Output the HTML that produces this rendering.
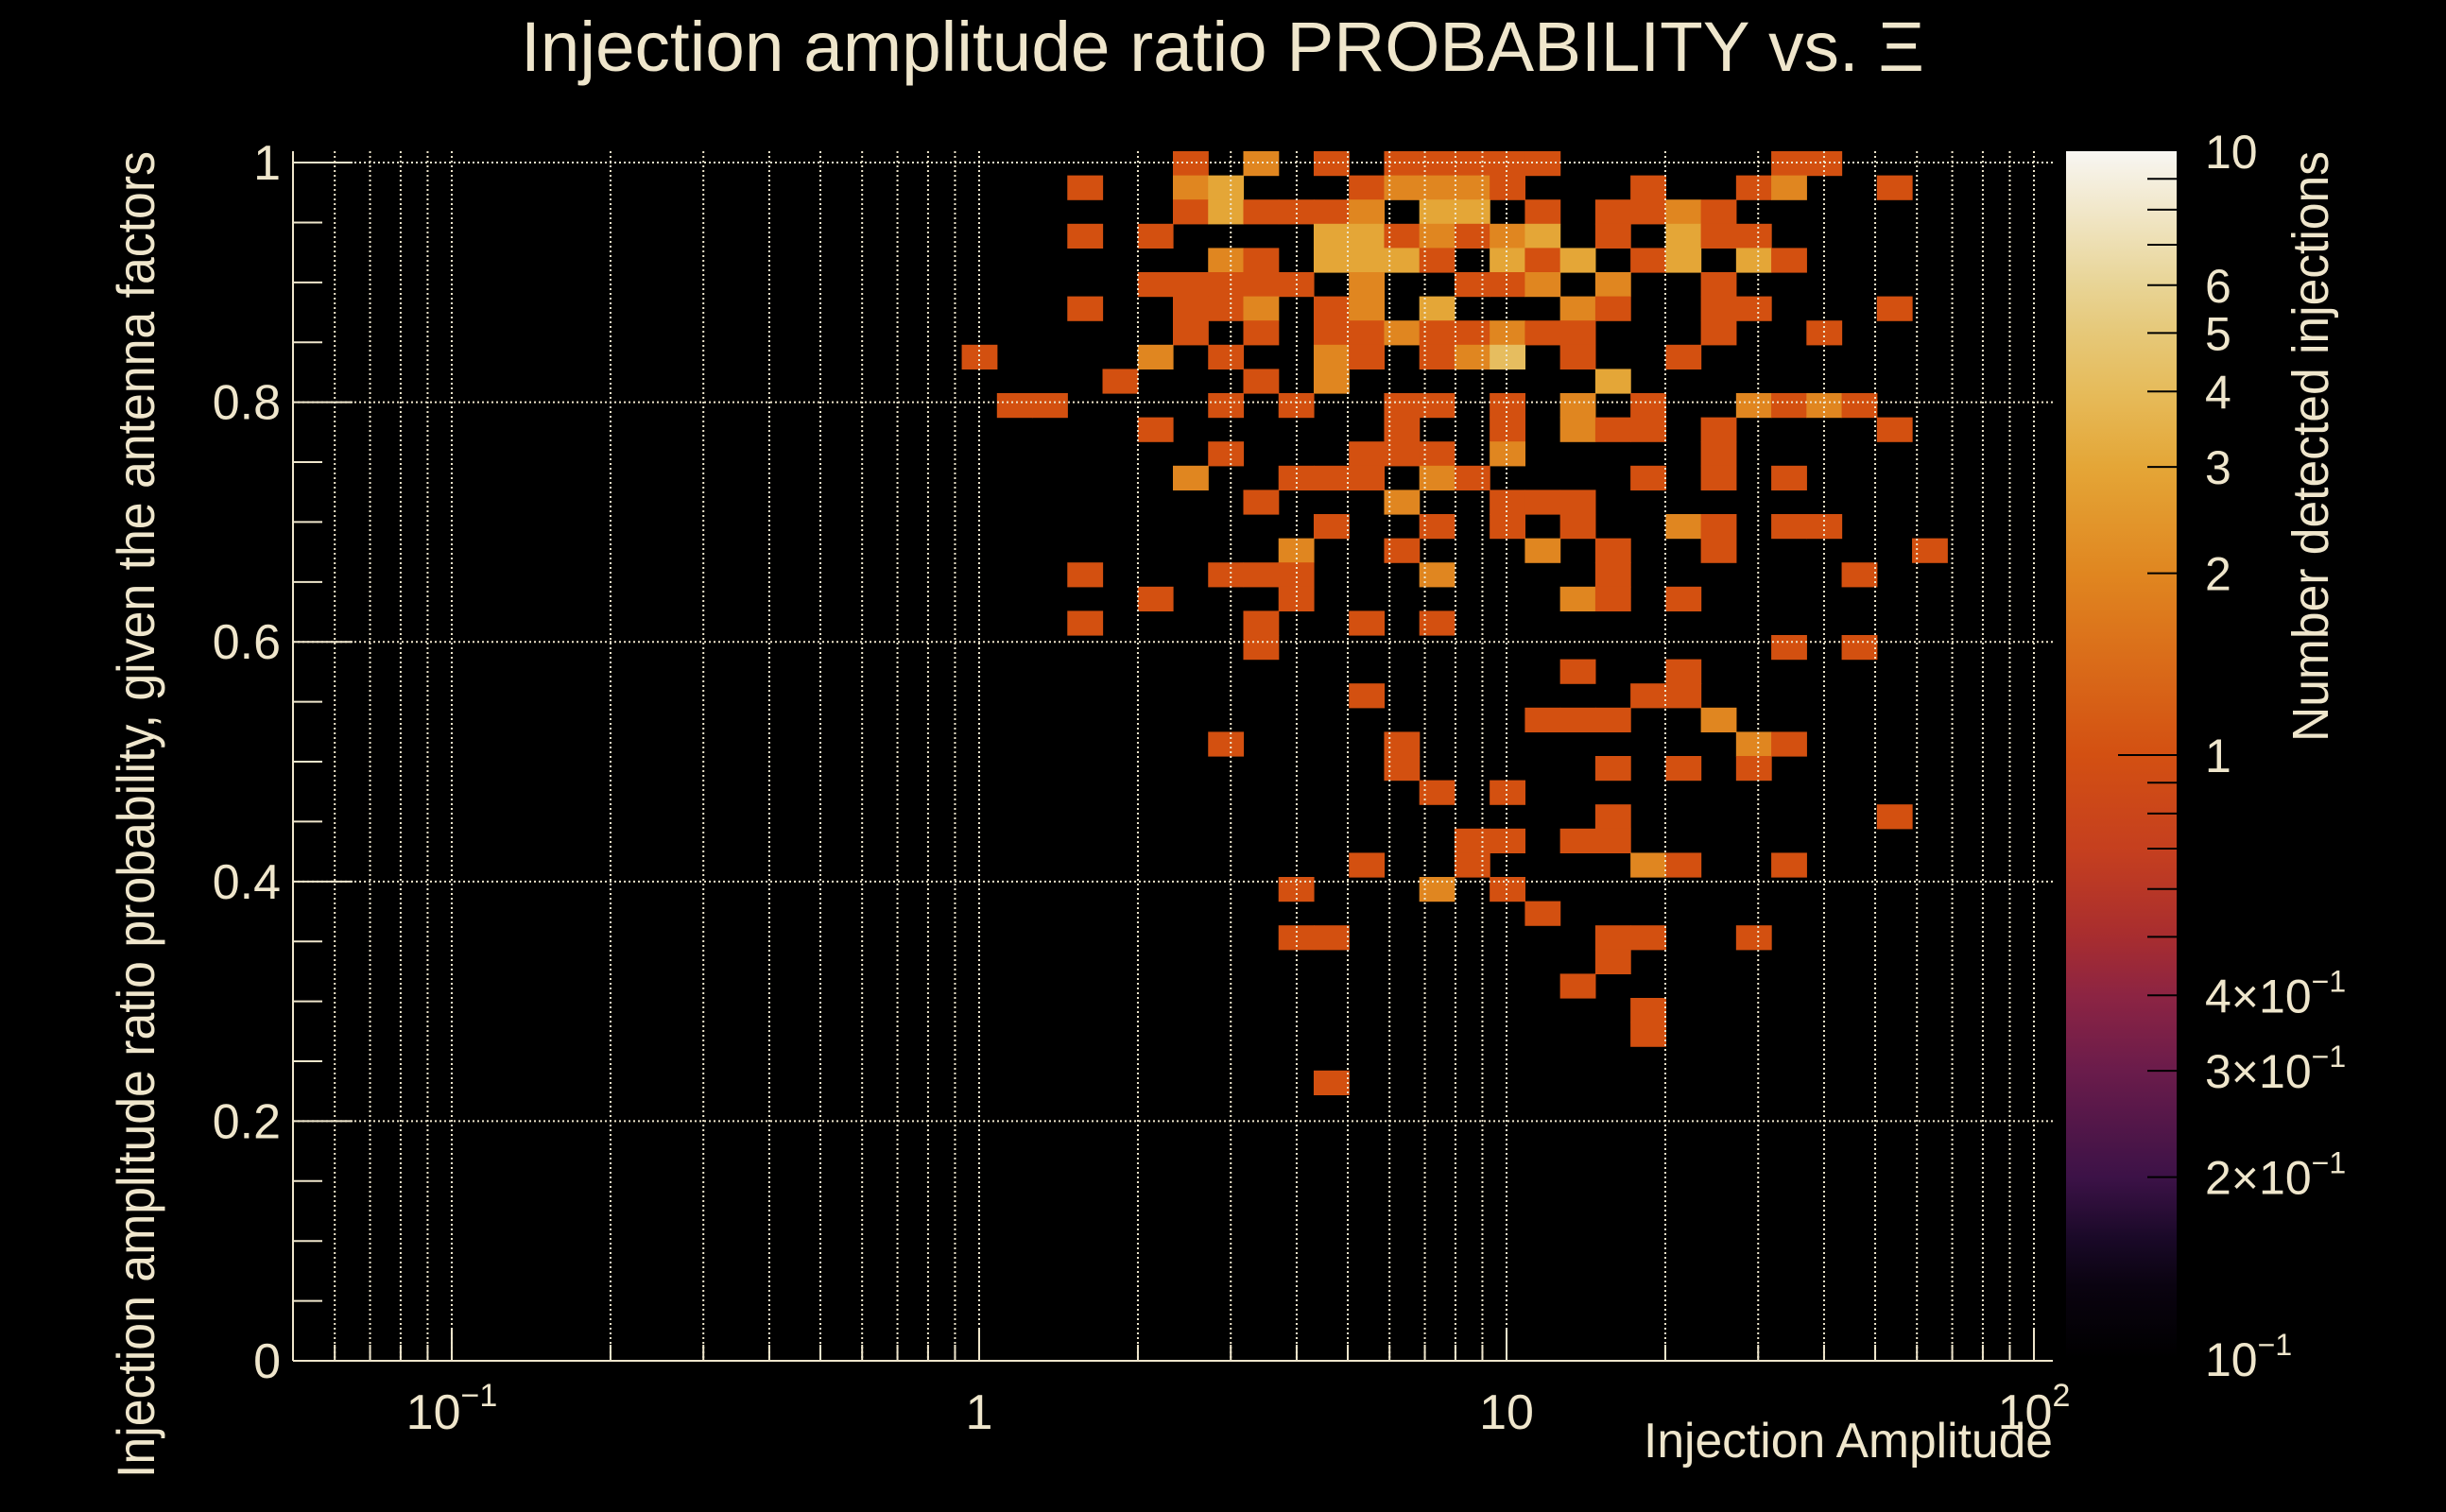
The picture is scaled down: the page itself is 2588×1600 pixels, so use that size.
<!DOCTYPE html>
<html><head><meta charset="utf-8"><title>Injection amplitude ratio probability</title>
<style>html,body{margin:0;padding:0;background:#000;}svg{display:block;}text{font-family:"Liberation Sans",Arial,sans-serif;fill:#efe6cc;}</style>
</head><body>
<svg id="chart" width="2588" height="1600" viewBox="0 0 2588 1600" xmlns="http://www.w3.org/2000/svg">
<rect x="0" y="0" width="2588" height="1600" fill="#000"/>
<defs>
<linearGradient id="cbgrad" x1="0" y1="1" x2="0" y2="0">
<stop offset="0" stop-color="#000000"/><stop offset="0.06" stop-color="#0a0310"/><stop offset="0.1" stop-color="#1a0928"/><stop offset="0.15" stop-color="#3c1247"/><stop offset="0.24" stop-color="#6b1c4b"/><stop offset="0.30" stop-color="#8c2443"/><stop offset="0.35" stop-color="#a82d2f"/><stop offset="0.42" stop-color="#c53f1f"/><stop offset="0.5" stop-color="#d35012"/><stop offset="0.65" stop-color="#e08620"/><stop offset="0.739" stop-color="#e4a637"/><stop offset="0.80" stop-color="#e6bb5a"/><stop offset="0.849" stop-color="#e6c878"/><stop offset="0.889" stop-color="#e8d495"/><stop offset="1" stop-color="#f8f6f2"/>
</linearGradient></defs>
<g id="cells"></g>
<g id="grid"></g>
<g id="axes"></g>
<g id="colorbar"></g>
<text x="551" y="75" font-size="74" textLength="1485" lengthAdjust="spacingAndGlyphs">Injection amplitude ratio PROBABILITY vs.  Ξ</text>
<text x="2172" y="1542" font-size="52" text-anchor="end" textLength="433" lengthAdjust="spacingAndGlyphs">Injection Amplitude</text>
<text transform="translate(163,1564) rotate(-90)" font-size="56" textLength="1404" lengthAdjust="spacingAndGlyphs">Injection amplitude ratio probability, given the antenna factors</text>
<text transform="translate(2463,785) rotate(-90)" font-size="54" textLength="625" lengthAdjust="spacingAndGlyphs">Number detected injections</text>
</svg>
<script>
// ---- data ----
const rowProb = [1.000,0.980,0.960,0.939,0.919,0.899,0.879,0.859,0.838,0.818,0.798,0.778,0.758,0.737,0.717,0.697,0.677,0.657,0.636,0.616,0.596,0.576,0.556,0.535,0.515,0.495,0.475,0.455,0.434,0.414,0.394,0.374,0.354,0.333,0.313,0.293,0.273,0.232];
const rowAmp = [
[2.517,3.422,4.654,6.329,7.379,8.605,10.03,11.70,34.31,40.02],
[1.587,2.517,2.935,5.427,6.329,7.379,8.605,10.03,18.56,29.43,34.31,54.42],
[2.517,2.935,3.422,3.991,4.654,5.427,7.379,8.605,11.70,15.91,18.56,21.64,25.23],
[1.587,2.159,4.654,5.427,6.329,7.379,8.605,10.03,11.70,15.91,21.64,25.23,29.43],
[2.935,3.422,4.654,5.427,6.329,7.379,10.03,11.70,13.65,18.56,21.64,29.43,34.31],
[2.159,2.517,2.935,3.422,3.991,5.427,8.605,10.03,11.70,15.91,25.23],
[1.587,2.517,2.935,3.422,4.654,5.427,7.379,13.65,15.91,25.23,29.43,54.42],
[2.517,3.422,4.654,5.427,6.329,7.379,8.605,10.03,11.70,13.65,25.23,40.02],
[1.00,2.159,2.935,4.654,5.427,7.379,8.605,10.03,13.65,21.64],
[1.851,3.422,4.654,15.91],
[1.167,1.361,2.935,3.991,6.329,7.379,10.03,13.65,18.56,29.43,34.31,40.02,46.67],
[2.159,6.329,10.03,13.65,15.91,18.56,25.23,54.42],
[2.935,5.427,6.329,7.379,10.03,25.23],
[2.517,3.991,4.654,5.427,7.379,8.605,18.56,25.23,34.31],
[3.422,6.329,10.03,11.70,13.65],
[4.654,7.379,10.03,13.65,21.64,25.23,34.31,40.02],
[3.991,6.329,11.70,15.91,25.23,63.46],
[1.587,2.935,3.422,3.991,7.379,15.91,46.67],
[2.159,3.991,13.65,15.91,21.64],
[1.587,3.422,5.427,7.379],
[3.422,34.31,46.67],
[13.65,21.64],
[5.427,18.56,21.64],
[11.70,13.65,15.91,25.23],
[2.935,6.329,29.43,34.31],
[6.329,15.91,21.64,29.43],
[7.379,10.03],
[15.91,54.42],
[8.605,10.03,13.65,15.91],
[5.427,8.605,18.56,21.64,34.31],
[3.991,7.379,10.03],
[11.70],
[3.991,4.654,15.91,18.56,29.43],
[15.91],
[13.65],
[18.56],
[18.56],
[4.654]
];
const rowCount = [
[1,2,1,1,1,1,1,1,1,1],
[1,2,3,1,2,2,2,1,1,1,2,1],
[1,3,1,1,1,2,3,3,1,1,1,2,1],
[1,1,3,3,1,2,1,2,3,1,3,1,1],
[2,1,3,3,3,1,3,1,3,1,3,3,1],
[1,1,1,1,1,2,1,1,2,2,1],
[1,1,1,2,1,2,3,2,1,1,1,1],
[1,1,1,1,2,1,1,2,1,1,1,1],
[1,2,1,2,1,1,2,4,1,1],
[1,1,2,3],
[1,1,1,1,1,1,1,2,1,2,1,2,1],
[1,1,1,2,1,1,1,1],
[1,1,1,1,2,1],
[2,1,1,1,2,1,1,1,1],
[1,2,1,1,1],
[1,1,1,1,2,1,1,1],
[2,1,2,1,1,1],
[1,1,1,1,2,1,1],
[1,1,2,1,1],
[1,1,1,1],
[1,1,1],
[1,1],
[1,1,1],
[1,1,1,2],
[1,1,2,1],
[1,1,1,1],
[1,1],
[1,1],
[1,1,1,1],
[1,1,2,1,1],
[1,2,1],
[1],
[1,1,1,1,1],
[1],
[1],
[1],
[1],
[1]
];
const yTickLabels = ["0","0.2","0.4","0.6","0.8","1"];
const yTickValues = [0,0.2,0.4,0.6,0.8,1];
const xMajorValues = [0.1,1,10,100];
const zTickValues = [10,6,5,4,3,2,1,0.4,0.3,0.2,0.1];

// ---- axes ----
const NS="http://www.w3.org/2000/svg";
const FX0=310,FX1=2172,FY0=1440,FYT=160;
const XMIN=0.05,XMAX=108.6,YMAX=1.0095,NBX=50,NBY=50;
const LX0=Math.log10(XMIN),LX1=Math.log10(XMAX),WX=(LX1-LX0)/NBX,HY=YMAX/NBY;
function xPix(a){return FX0+(Math.log10(a)-LX0)/(LX1-LX0)*(FX1-FX0);}
function yPix(p){return FY0-p*(FY0-FYT)/YMAX;}
const ZY0=1438,ZY1=160;
function zPix(v){return ZY0-(Math.log10(v)+1)/2*(ZY0-ZY1);}
const cStops=[[0,[0,0,0]],[0.06,[10,3,16]],[0.1,[26,9,40]],[0.15,[60,18,71]],[0.24,[107,28,75]],[0.30,[140,36,67]],[0.35,[168,45,47]],[0.42,[197,63,31]],[0.5,[211,80,16]],[0.65,[224,134,32]],[0.739,[228,166,55]],[0.80,[230,189,94]],[0.849,[230,200,120]],[0.889,[232,212,149]],[1,[248,246,242]]];
function zColor(v){let t=(Math.log10(v)+1)/2;t=Math.max(0,Math.min(1,t));
 for(let i=1;i<cStops.length;i++){if(t<=cStops[i][0]){const a=cStops[i-1],b=cStops[i],f=(t-a[0])/(b[0]-a[0]);
 const c=a[1].map((x,k)=>Math.round(x+(b[1][k]-x)*f));return `rgb(${c[0]},${c[1]},${c[2]})`;}}return "rgb(248,246,242)";}
function mk(tag,attrs,parent){const e=document.createElementNS(NS,tag);for(const k in attrs)e.setAttribute(k,attrs[k]);parent.appendChild(e);return e;}

// ---- cells ----
const gc=document.getElementById('cells');
rowProb.forEach((p,ri)=>{
 rowAmp[ri].forEach((a,ci)=>{
  const ix=Math.floor((Math.log10(a)-LX0)/WX), iy=Math.floor(p/HY);
  const x0=xPix(Math.pow(10,LX0+ix*WX)), x1=xPix(Math.pow(10,LX0+(ix+1)*WX));
  const y1=yPix(iy*HY), y0=yPix((iy+1)*HY);
  const r=mk('rect',{x:x0.toFixed(2),y:y0.toFixed(2),width:(x1-x0+0.6).toFixed(2),height:(y1-y0+0.6).toFixed(2),fill:zColor(rowCount[ri][ci])},gc);
  
  
 });
});

// ---- grid ----
const gg=document.getElementById('grid');
const gridStyle={stroke:'#efe6cc','stroke-width':2,'stroke-dasharray':'2 3'};
for(let d=-2;d<=2;d++){for(let m=1;m<10;m++){const v=m*Math.pow(10,d);if(v<XMIN||v>XMAX)continue;
 const x=xPix(v);const l=mk('line',Object.assign({x1:x,x2:x,y1:FYT,y2:FY0},gridStyle),gg);
 
 }}
yTickValues.forEach(v=>{if(v===0)return;const y=yPix(v);const l=mk('line',Object.assign({x1:FX0,x2:FX1,y1:y,y2:y},gridStyle),gg);
 
 });

// ---- axes ----
const ga=document.getElementById('axes');
const ax=mk('line',{x1:FX0,x2:FX1,y1:FY0,y2:FY0,stroke:'#efe6cc','stroke-width':2},ga);


const ay=mk('line',{x1:FX0,x2:FX0,y1:FYT,y2:FY0,stroke:'#efe6cc','stroke-width':2},ga);


for(let d=-2;d<=2;d++){for(let m=1;m<10;m++){const v=m*Math.pow(10,d);if(v<XMIN||v>XMAX)continue;
 const x=xPix(v),len=(m===1)?35:17;const t=mk('line',{x1:x,x2:x,y1:FY0,y2:FY0-len,stroke:'#efe6cc','stroke-width':2},ga);
 
 }}
for(let k=0;k<=20;k++){const v=k*0.05;const y=yPix(v);const len=(k%4===0)?63:31;
 const t=mk('line',{x1:FX0,x2:FX0+len,y1:y,y2:y,stroke:'#efe6cc','stroke-width':2},ga);
 
 }
yTickValues.forEach((v,i)=>{const t=mk('text',{x:297,y:yPix(v)+18,'font-size':52,'text-anchor':'end'},ga);t.textContent=yTickLabels[i];
 
 });
xMajorValues.forEach(v=>{const e=Math.round(Math.log10(v));const t=mk('text',{x:xPix(v),y:1512,'font-size':52,'text-anchor':'middle'},ga);
 if(e===0){t.textContent='1';}else if(e===1){t.textContent='10';}else{
  const a=document.createElementNS(NS,'tspan');a.textContent='10';t.appendChild(a);
  const b=document.createElementNS(NS,'tspan');b.setAttribute('dy','-24');b.setAttribute('font-size','34');b.textContent=(e<0?'\u2212':'')+Math.abs(e);t.appendChild(b);}
 
 });

// ---- colorbar ----
const gz=document.getElementById('colorbar');
const cb=mk('rect',{x:2186,y:ZY1,width:117,height:ZY0-ZY1,fill:'url(#cbgrad)'},gz);


for(let d=-1;d<=0;d++){for(let m=1;m<10;m++){const v=m*Math.pow(10,d);if(v<=0.1)continue;const y=zPix(v);const len=(v===1)?62:31;
 const t=mk('line',{x1:2303-len,x2:2303,y1:y,y2:y,stroke:'#000','stroke-width':2},gz);
 
 }}
zTickValues.forEach(v=>{const t=mk('text',{x:2333,y:zPix(v)+18,'font-size':50},gz);
 if(v>=1){t.textContent=String(v);}else if(v===0.1){const a=document.createElementNS(NS,'tspan');a.textContent='10';t.appendChild(a);
  const b=document.createElementNS(NS,'tspan');b.setAttribute('dy','-22');b.setAttribute('font-size','32');b.textContent='\u22121';t.appendChild(b);}
 else{const a=document.createElementNS(NS,'tspan');a.textContent=Math.round(v*10)+'\u00d710';t.appendChild(a);
  const b=document.createElementNS(NS,'tspan');b.setAttribute('dy','-22');b.setAttribute('font-size','32');b.textContent='\u22121';t.appendChild(b);}
 
 });
</script>
</body></html>
